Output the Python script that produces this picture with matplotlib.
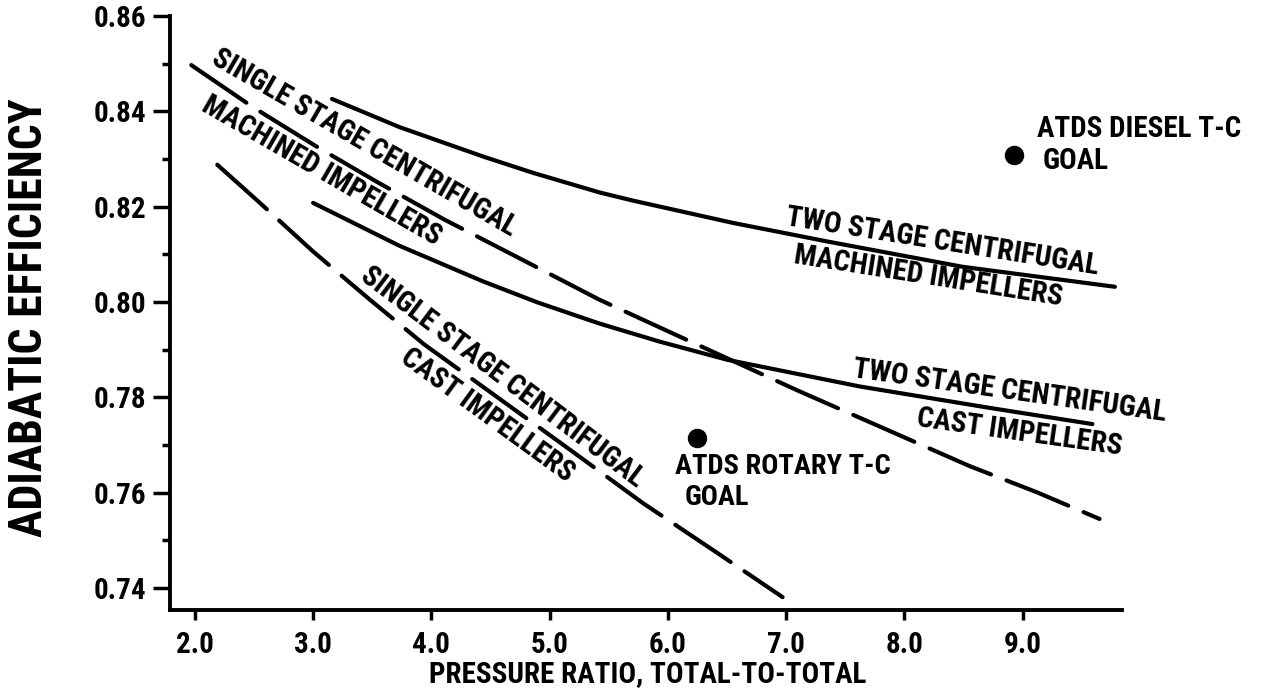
"""
Compressor adiabatic efficiency vs pressure ratio (single / two stage centrifugal)
"""

import matplotlib
matplotlib.use("Agg")
import matplotlib.pyplot as plt
from matplotlib import font_manager as fm

# ---- data ----
# two stage centrifugal, machined impellers (solid)
two_mach_x = [3.16, 3.73, 4.44, 4.86, 5.42, 5.70, 6.55, 7.37, 8.49, 9.78]
two_mach_y = [0.8426, 0.8367, 0.8305, 0.8271, 0.8230, 0.8213, 0.8166, 0.8126, 0.8074, 0.8032]

# two stage centrifugal, cast impellers (solid)
two_cast_x = [3.0, 3.73, 4.44, 4.90, 5.42, 5.93, 6.50, 7.62, 8.72, 9.59]
two_cast_y = [0.8208, 0.8118, 0.8043, 0.7999, 0.7955, 0.7917, 0.7879, 0.7823, 0.7778, 0.7744]

# single stage centrifugal, machined impellers (dashed)
one_mach_x = [1.97, 2.49, 3.03, 3.54, 4.11, 4.72, 5.42, 6.06, 7.11, 7.90, 8.55, 9.12, 9.65]
one_mach_y = [0.8497, 0.8409, 0.8326, 0.8252, 0.8173, 0.8095, 0.8005, 0.7932, 0.7813,
              0.7727, 0.7656, 0.7601, 0.7545]

# single stage centrifugal, cast impellers (dashed)
one_cast_x = [2.19, 2.55, 3.0, 3.48, 3.94, 4.56, 5.19, 5.79, 6.41, 6.97]
one_cast_y = [0.8288, 0.8208, 0.8106, 0.8005, 0.7911, 0.7800, 0.7687, 0.7578, 0.7475, 0.7381]

# goal points
goal_x = [8.93, 6.25]
goal_y = [0.8309, 0.7714]

x_ticks = [2.0, 3.0, 4.0, 5.0, 6.0, 7.0, 8.0, 9.0]
y_ticks = [0.74, 0.76, 0.78, 0.80, 0.82, 0.84, 0.86]
y_minor = [0.75, 0.77, 0.79, 0.81, 0.83, 0.85]

# ---- pick a narrow bold font if there is one ----
names = {f.name for f in fm.fontManager.ttflist}
FONT = "DejaVu Sans"
for cand in ["Liberation Sans Narrow", "Roboto Condensed", "DejaVu Sans Condensed"]:
    if cand in names:
        FONT = cand
        break
plt.rcParams["font.family"] = [FONT, "DejaVu Sans"]
plt.rcParams["font.stretch"] = "condensed"
plt.rcParams["font.weight"] = "bold"

W, H = 1265, 689
fig = plt.figure(figsize=(W / 100, H / 100), dpi=100)
ax = fig.add_axes([170 / W, 1 - 610 / H, (1122 - 170) / W, (610 - 16) / H])

LW = 3.0
ax.plot(two_mach_x, two_mach_y, color="black", lw=LW, solid_capstyle="round")
ax.plot(two_cast_x, two_cast_y, color="black", lw=LW, solid_capstyle="round")
ax.plot(one_mach_x, one_mach_y, color="black", lw=LW, dashes=(16, 4),
        dash_capstyle="round")
ax.plot(one_cast_x, one_cast_y, color="black", lw=LW, dashes=(16, 4),
        dash_capstyle="round")
ax.plot(goal_x, goal_y, "o", color="black", markersize=13)

ax.set_xlim(1.79, 9.84)
ax.set_ylim(0.7354, 0.86)

ax.spines["top"].set_visible(False)
ax.spines["right"].set_visible(False)
for s in ("left", "bottom"):
    ax.spines[s].set_linewidth(2.8)

ax.set_xticks(x_ticks)
ax.set_xticklabels(["%.1f" % v for v in x_ticks])
ax.set_yticks(y_ticks)
ax.set_yticklabels(["%.2f" % v for v in y_ticks])
ax.set_yticks(y_minor, minor=True)
ax.tick_params(axis="both", which="major", direction="out", width=2.5,
               labelsize=21)
ax.tick_params(axis="y", which="major", length=12, pad=5)
ax.tick_params(axis="x", which="major", length=7, pad=8)
ax.tick_params(axis="y", which="minor", direction="out", width=2.5, length=6)


def label(x, y, s, rot):
    ax.text(x, y, s, rotation=rot, ha="center", va="center",
            rotation_mode="anchor", fontsize=21, fontweight="bold")


# labels along the curves
label(3.43, 0.8333, "SINGLE STAGE CENTRIFUGAL", -30)
label(3.07, 0.8275, "MACHINED IMPELLERS", -30)
label(4.60, 0.7842, "SINGLE STAGE CENTRIFUGAL", -37)
label(4.47, 0.7763, "CAST IMPELLERS", -36)
label(8.32, 0.8127, "TWO STAGE CENTRIFUGAL", -9)
label(8.20, 0.8054, "MACHINED IMPELLERS", -9)
label(8.89, 0.7813, "TWO STAGE CENTRIFUGAL", -8)
label(8.97, 0.7727, "CAST IMPELLERS", -8)

# goal texts
ax.text(9.12, 0.8363, "ATDS DIESEL T-C", ha="left", va="center", fontsize=21)
ax.text(9.17, 0.8296, "GOAL", ha="left", va="center", fontsize=21)
ax.text(6.06, 0.7656, "ATDS ROTARY T-C", ha="left", va="center", fontsize=20.5)
ax.text(6.14, 0.7589, "GOAL", ha="left", va="center", fontsize=20.5)

# axis titles
fig.text(29 / W, 1 - 318 / H, "ADIABATIC EFFICIENCY", rotation=90,
         ha="center", va="center", fontsize=33, fontweight="bold")
fig.text(648 / W, 1 - 674 / H, "PRESSURE RATIO, TOTAL-TO-TOTAL",
         ha="center", va="center", fontsize=21, fontweight="bold")

fig.savefig("out.png", dpi=100)
